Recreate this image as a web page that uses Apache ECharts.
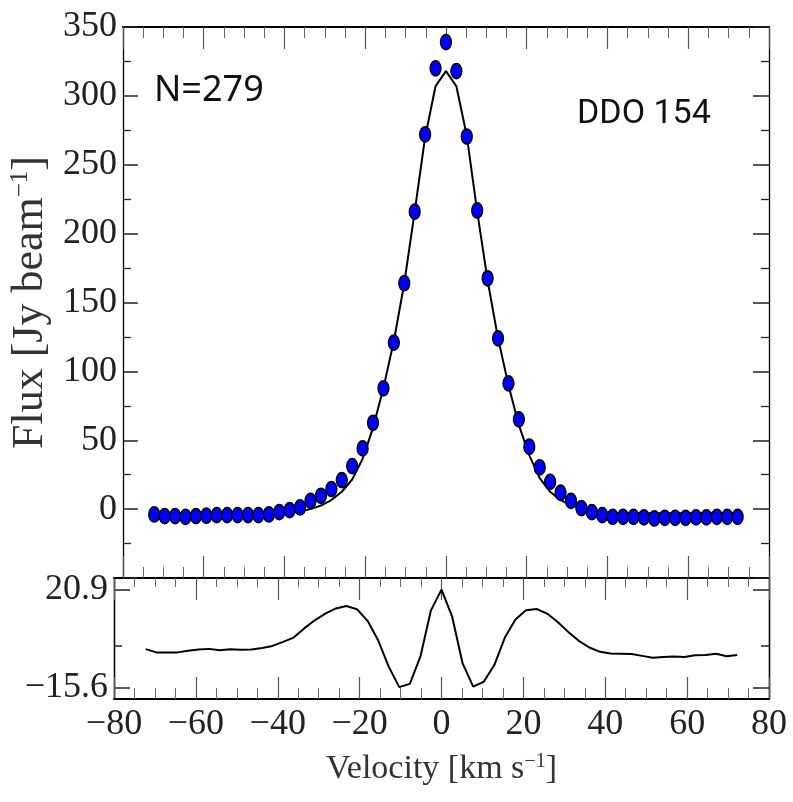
<!DOCTYPE html>
<html>
<head>
<meta charset="utf-8">
<script src="https://cdn.jsdelivr.net/npm/echarts@6/dist/echarts.min.js"></script>
<style>
  html, body { margin: 0; padding: 0; background: #fff; }
  #chart { width: 793px; height: 802px; }
</style>
</head>
<body>
<div id="chart"></div>
<script>
// channel velocities [km/s]
const velocity = [
  -72.24, -69.66, -67.08, -64.50, -61.92, -59.34, -56.76, -54.18, -51.60, -49.02,
  -46.44, -43.86, -41.28, -38.70, -36.12, -33.54, -30.96, -28.38, -25.80, -23.22,
  -20.64, -18.06, -15.48, -12.90, -10.32, -7.74, -5.16, -2.58, 0,
  2.58, 5.16, 7.74, 10.32, 12.90, 15.48, 18.06, 20.64, 23.22, 25.80,
  28.38, 30.96, 33.54, 36.12, 38.70, 41.28, 43.86, 46.44, 49.02, 51.60,
  54.18, 56.76, 59.34, 61.92, 64.50, 67.08, 69.66, 72.24
];

// stacked profile (points)
const flux = [
  -3.9, -5.1, -5.1, -5.6, -5.1, -4.8, -4.4, -4.4, -4.4, -4.4,
  -4.4, -3.9, -2.2, -0.7, 1.2, 6.0, 9.7, 14.5, 21.1, 31.2,
  44.1, 62.7, 87.7, 120.9, 164, 216, 272, 320, 339,
  318, 270.5, 216.8, 167.6, 124, 91.3, 65.2, 45.3, 30.3, 19.8,
  11.9, 6.0, 0.7, -2.2, -4.4, -5.6, -5.6, -5.6, -6.0, -6.8,
  -6.3, -6.3, -6.3, -6.0, -6.0, -5.6, -5.6, -5.6
];

// model fit (line)
const model = [
  -3.0, -3.0, -3.0, -3.0, -3.0, -3.0, -3.0, -3.0, -2.9, -2.9,
  -2.8, -2.7, -2.5, -2.2, -1.5, 0.0, 2.6, 6.6, 12.6, 21.5,
  36.5, 59, 88, 122, 164, 216, 270, 307, 318,
  307, 271, 216, 166, 124, 90, 61, 39, 22.5, 12.6,
  6.5, 2.9, 0.6, -1.0, -2.0, -2.6, -2.8, -2.9, -3.0, -3.0,
  -3.0, -3.0, -3.0, -3.0, -3.0, -3.0, -3.0, -3.0
];

// residuals (bottom panel)
const residual = [
  -1.3, -2.5, -2.5, -2.5, -1.9, -1.4, -1.2, -1.7, -1.3, -1.5,
  -1.4, -0.9, -0.1, 1.4, 3.0, 6.4, 9.4, 11.9, 13.8, 14.7,
  13.5, 9.2, 2.0, -7.8, -15.4, -14.2, -4.1, 13.1, 20.8,
  10.9, -6.6, -15.2, -13.4, -7.2, 3.0, 9.7, 13.1, 13.6, 11.9,
  8.8, 5.1, 1.8, -0.7, -2.3, -2.9, -3.0, -3.1, -3.8, -4.5,
  -4.2, -4.0, -4.2, -3.6, -3.5, -3.0, -3.9, -3.5
];

const velocityTicks = [-80, -60, -40, -20, 0, 20, 40, 60, 80];
const fluxTicks = [0, 50, 100, 150, 200, 250, 300, 350];
const residualTicks = [-15.6, 20.9];
const residualMinorTicks = [0];

const serif = '"Liberation Serif", "DejaVu Serif", serif';
const minus = v => String(v).replace('-', '\u2212');

const xTickMajor = { show: true, inside: true, length: 22, lineStyle: { color: '#555', width: 1.2 } };
const xLine = { show: true, onZero: false, lineStyle: { color: '#000', width: 2 } };
const yLine = { show: true, onZero: false, lineStyle: { color: '#000', width: 1.3 } };

function velAxis(gridIndex, position, opts) {
  return Object.assign({
    type: 'value', gridIndex, position,
    min: -80, max: 80, interval: 20,
    axisLine: xLine,
    axisTick: xTickMajor,
    minorTick: { show: true, splitNumber: 4, length: 11, lineStyle: { color: '#666', width: 1 } },
    axisLabel: { show: false },
    splitLine: { show: false }
  }, opts || {});
}

function resAxis(position, values, len, labels) {
  return {
    type: 'value', gridIndex: 1, position,
    min: -19.8, max: 25.1,
    axisLine: yLine,
    axisTick: { show: true, inside: true, length: len, customValues: values,
                lineStyle: { color: '#222', width: 1.5 } },
    axisLabel: labels ? {
      show: true, customValues: residualTicks, margin: 6,
      fontFamily: serif, fontSize: 36, color: '#222', formatter: minus
    } : { show: false },
    splitLine: { show: false }
  };
}

const fluxRight = {
  type: 'value', gridIndex: 0, position: 'right',
  min: -50, max: 350, interval: 50,
  axisLine: yLine,
  axisTick: { show: true, inside: true, length: 16, lineStyle: { color: '#222', width: 1.5 } },
  minorTick: { show: true, splitNumber: 2, length: 8, lineStyle: { color: '#222', width: 1.3 } },
  axisLabel: { show: false },
  splitLine: { show: false }
};

const option = {
  animation: false,
  backgroundColor: '#fff',
  grid: [
    { left: 114, top: 27, width: 655, height: 551 },
    { left: 114, top: 578, width: 655, height: 121 }
  ],
  xAxis: [
    velAxis(0, 'bottom'),
    velAxis(0, 'top'),
    velAxis(1, 'top', { minorTick: { show: true, splitNumber: 4, length: 9, lineStyle: { color: '#666', width: 1 } } }),
    velAxis(1, 'bottom', {
      axisLabel: {
        show: true, customValues: velocityTicks, margin: 8,
        fontFamily: serif, fontSize: 36, color: '#222', formatter: minus
      },
      name: 'Velocity [km s{sup|\u22121}]',
      nameLocation: 'middle',
      nameGap: 53,
      nameTextStyle: {
        fontFamily: serif, fontSize: 34, color: '#333',
        rich: { sup: { fontFamily: serif, fontSize: 20, color: '#333', verticalAlign: 'top', padding: [0, 0, 14, 0] } }
      }
    })
  ],
  yAxis: [
    {
      type: 'value', gridIndex: 0, position: 'left',
      min: -50, max: 350, interval: 50,
      axisLine: yLine,
      axisTick: { show: true, inside: true, length: 15, lineStyle: { color: '#222', width: 1.5 } },
      minorTick: { show: true, splitNumber: 2, length: 8, lineStyle: { color: '#222', width: 1.3 } },
      axisLabel: {
        show: true, customValues: fluxTicks, margin: 6,
        fontFamily: serif, fontSize: 36, color: '#222'
      },
      splitLine: { show: false },
      name: 'Flux [Jy beam{sup|\u22121}]',
      nameLocation: 'middle',
      nameRotate: 90,
      nameGap: 53,
      nameTextStyle: {
        fontFamily: serif, fontSize: 44, color: '#333',
        rich: { sup: { fontFamily: serif, fontSize: 25, color: '#333', verticalAlign: 'top', padding: [0, 0, 19, 0] } }
      }
    },
    fluxRight,
    resAxis('left', residualTicks, 16, true),
    resAxis('left', residualMinorTicks, 8, false),
    resAxis('right', residualTicks, 16, false),
    resAxis('right', residualMinorTicks, 8, false)
  ],
  series: [
    {
      name: 'model', type: 'line', xAxisIndex: 0, yAxisIndex: 0,
      data: velocity.map((v, i) => [v, model[i]]),
      showSymbol: false, smooth: false, z: 2,
      lineStyle: { color: '#000', width: 2 }
    },
    {
      name: 'data', type: 'scatter', xAxisIndex: 0, yAxisIndex: 0,
      data: velocity.map((v, i) => [v, flux[i]]),
      symbol: 'circle', symbolSize: [11, 15], z: 3,
      itemStyle: { color: '#0000ff', borderColor: '#000', borderWidth: 1.5, opacity: 1 }
    },
    {
      name: 'residual', type: 'line', xAxisIndex: 3, yAxisIndex: 2,
      data: velocity.map((v, i) => [v, residual[i]]),
      showSymbol: false, smooth: false,
      lineStyle: { color: '#000', width: 2 }
    }
  ],
  graphic: [
    {
      type: 'text', left: 154, top: 73,
      style: { text: 'N=279', font: '36px "Noto Sans", sans-serif', fill: '#111' }
    },
    {
      type: 'text', left: 577, top: 97,
      style: { text: 'DDO 154', font: '34px "Roboto", sans-serif', fill: '#111' }
    }
  ]
};

const chart = echarts.init(document.getElementById('chart'));
chart.setOption(option);
</script>
</body>
</html>
